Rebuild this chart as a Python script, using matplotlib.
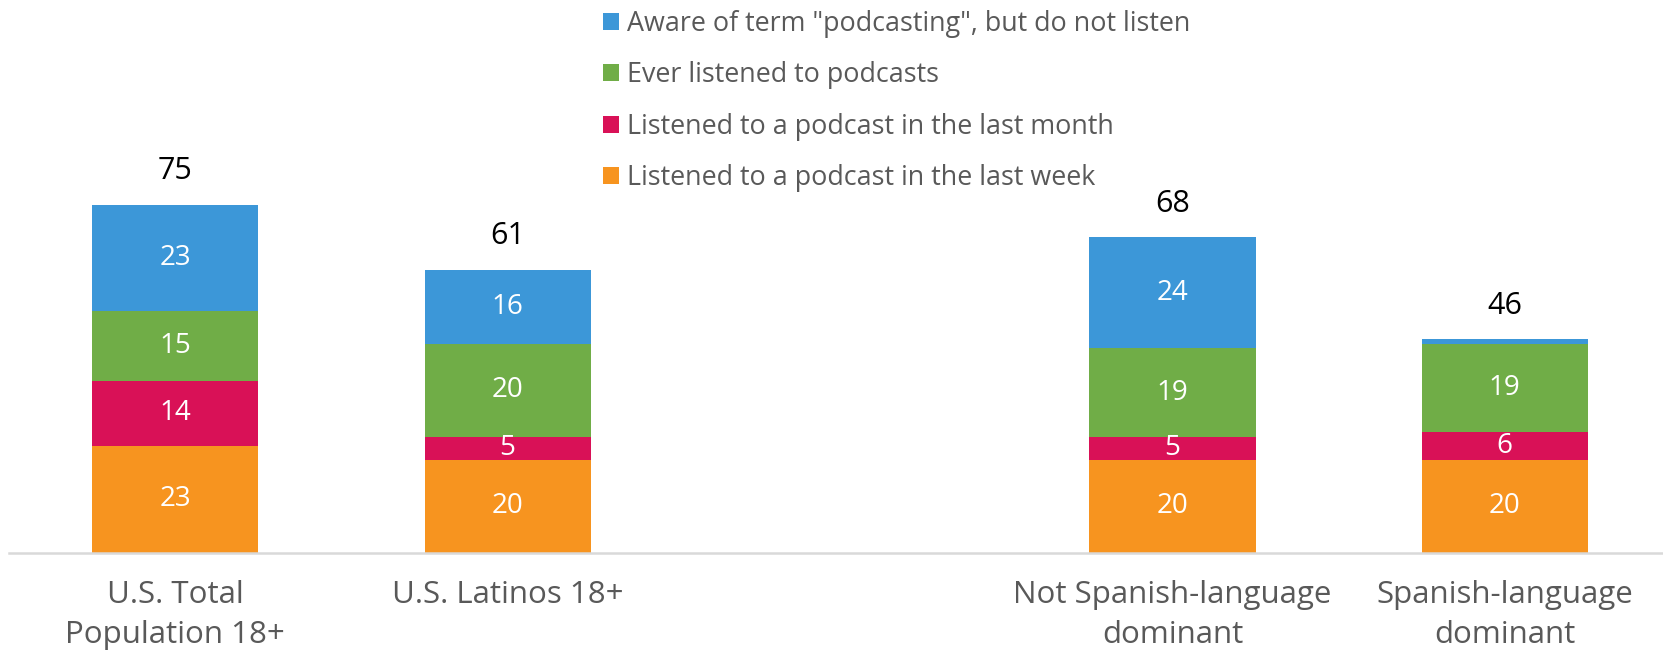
import matplotlib
matplotlib.use("Agg")
import matplotlib.pyplot as plt
from matplotlib.patches import Patch
import numpy as np

categories = ["U.S. Total\nPopulation 18+", "U.S. Latinos 18+",
              "Not Spanish-language\ndominant", "Spanish-language\ndominant"]
last_week = [23, 20, 20, 20]
last_month = [14, 5, 5, 6]
ever = [15, 20, 19, 19]
aware = [23, 16, 24, 1]
totals = [75, 61, 68, 46]

series = [
    ("Listened to a podcast in the last week", last_week, "#F7941F"),
    ("Listened to a podcast in the last month", last_month, "#D91157"),
    ("Ever listened to podcasts", ever, "#70AD47"),
    ("Aware of term \"podcasting\", but do not listen", aware, "#3C97D8"),
]

plt.rcParams['font.family'] = ['Open Sans', 'DejaVu Sans']
W, H = 1663, 654
fig = plt.figure(figsize=(W / 100, H / 100), dpi=100)
ax = fig.add_axes([9 / W, (H - 552.6) / H, (1671 - 9) / W, 464 / H])

pos = np.array([0, 1, 3, 4])
bottom = np.zeros(len(pos))
handles = []
for label, vals, color in series:
    vals = np.array(vals, dtype=float)
    ax.bar(pos, vals, 0.5, bottom=bottom, color=color, label=label,
           edgecolor='none')
    for x, b, v in zip(pos, bottom, vals):
        if v >= 3:
            ax.text(x, b + v / 2, f"{int(v)}", ha='center', va='center',
                    color='white', fontsize=20)
    bottom += vals
    handles.append(Patch(facecolor=color, label=label))

for x, t in zip(pos, totals):
    ax.text(x, t + 7.2, str(t), ha='center', va='center', color='black',
            fontsize=22)

ax.set_xlim(-0.5, 4.5)
ax.set_ylim(0, 100)
for s in ['top', 'left', 'right']:
    ax.spines[s].set_visible(False)
ax.spines['bottom'].set_color('#D9D9D9')
ax.spines['bottom'].set_linewidth(1.8)
ax.set_yticks([])
ax.set_xticks(pos)
ax.set_xticklabels(categories, fontsize=22.5, color='#595959',
                   linespacing=1.4, va='top')
ax.tick_params(axis='x', length=0, pad=20)

fig.legend(handles=handles[::-1], loc='upper left',
           bbox_to_anchor=(592 / W, 1.0 + 1 / H), frameon=False,
           fontsize=19.4, labelcolor='#595959', handlelength=0.6,
           handleheight=0.6, handletextpad=0.3, labelspacing=0.87,
           borderaxespad=0)

fig.savefig("out.png", dpi=100)
